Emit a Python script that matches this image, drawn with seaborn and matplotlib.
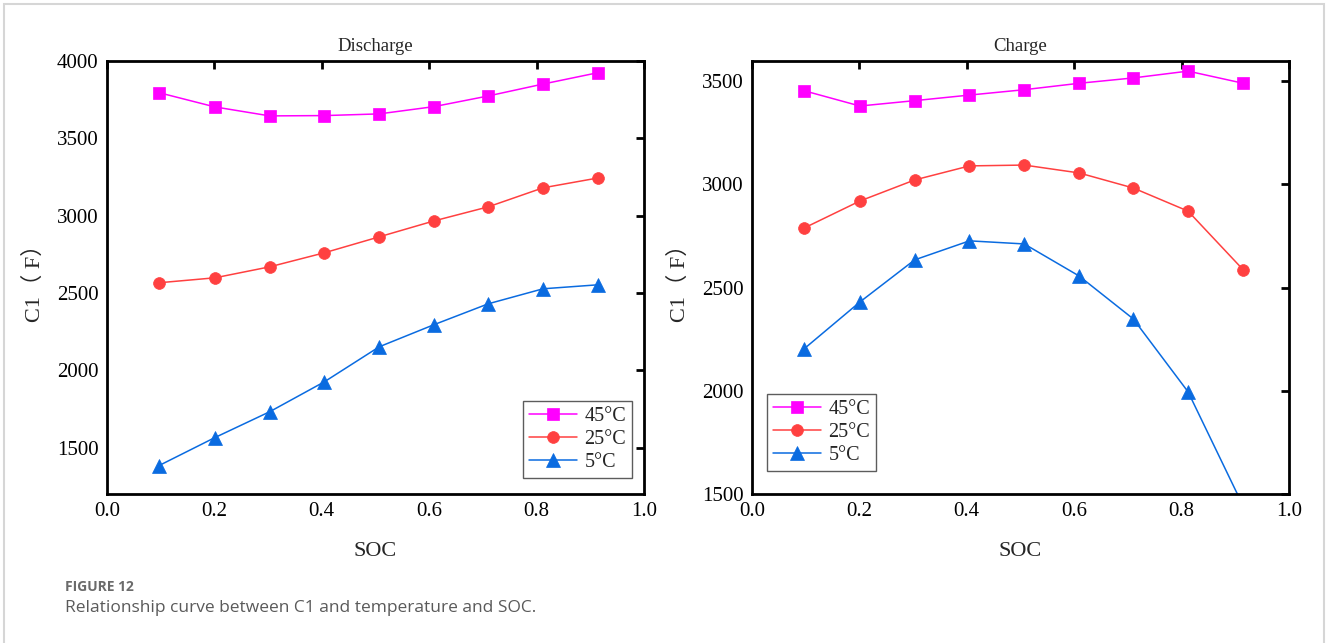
import matplotlib
matplotlib.use("Agg")
import matplotlib.pyplot as plt
import seaborn as sns
import pandas as pd
from matplotlib.patches import Rectangle

soc = [0.097, 0.201, 0.303, 0.405, 0.507, 0.609, 0.71, 0.812, 0.915]
temps = ["45°C", "25°C", "5°C"]

dis_45 = [3795, 3703, 3645, 3647, 3658, 3705, 3774, 3851, 3925]
dis_25 = [2566, 2598, 2669, 2760, 2863, 2966, 3057, 3180, 3244]
dis_5 = [1384, 1565, 1732, 1926, 2152, 2295, 2430, 2527, 2553]

chg_45 = [3453, 3379, 3405, 3432, 3458, 3489, 3515, 3548, 3489]
chg_25 = [2788, 2919, 3021, 3089, 3093, 3055, 2982, 2870, 2585]
chg_5 = [2203, 2430, 2634, 2726, 2711, 2556, 2348, 1995, 1440]

xticks = [0.0, 0.2, 0.4, 0.6, 0.8, 1.0]
dis_yticks = [1500, 2000, 2500, 3000, 3500, 4000]
chg_yticks = [1500, 2000, 2500, 3000, 3500]

colors = ["#ff00ff", "#ff4040", "#0a6be0"]
markers = ["s", "o", "^"]
msizes = [9, 8.5, 9.5]

sns.set_theme(style="white")
serif = ["Liberation Serif", "Noto Sans CJK SC", "DejaVu Sans"]
plt.rcParams["font.family"] = serif

fig = plt.figure(figsize=(13.28, 6.43), dpi=100)
ax1 = fig.add_axes([107/1328, 1-494/643, 537/1328, 433/643])
ax2 = fig.add_axes([752/1328, 1-494/643, 537/1328, 433/643])

def draw(ax, series, title, ylim, yticks, legloc, bbox):
    for vals, lab, c, m, ms in zip(series, temps, colors, markers, msizes):
        sns.lineplot(x=soc, y=vals, ax=ax, color=c, marker=m, markersize=ms,
                     markeredgecolor=c, markeredgewidth=0.5, linewidth=1.1, label=lab)
    ax.set_xlim(0, 1.0)
    ax.set_ylim(*ylim)
    ax.set_xticks(xticks)
    ax.set_xticklabels([f"{t:.1f}" for t in xticks])
    ax.set_yticks(yticks)
    ax.set_yticklabels([str(t) for t in yticks])
    ax.tick_params(direction="in", length=6, width=2, top=True, right=True,
                   labelsize=15, colors="black", pad=6)
    for lbl in ax.get_xticklabels() + ax.get_yticklabels():
        lbl.set_family(serif)
    for s in ax.spines.values():
        s.set_linewidth(2)
        s.set_color("black")
    ax.set_title(title, fontsize=13.5, family=serif, pad=7)
    ax.set_xlabel("SOC", fontsize=16, family=serif, labelpad=15)
    ax.set_ylabel("C1（ F）", fontsize=16, family=serif, labelpad=9)
    leg = ax.legend(loc=legloc, bbox_to_anchor=bbox, frameon=True, fancybox=False,
                    prop={"family": serif, "size": 14.5}, handlelength=2.4,
                    borderpad=0.3, labelspacing=0.2, handletextpad=0.35,
                    borderaxespad=0)
    leg.get_frame().set_edgecolor("#333333")
    leg.get_frame().set_linewidth(1.0)

draw(ax1, [dis_45, dis_25, dis_5], "Discharge", (1200, 4000), dis_yticks,
     "lower right", (0.978, 0.037))
draw(ax2, [chg_45, chg_25, chg_5], "Charge", (1500, 3597), chg_yticks,
     "lower left", (0.028, 0.053))

fig.patches.append(Rectangle((4/1328, -0.01), 1320/1328, 1 - 4/643 + 0.01,
                             transform=fig.transFigure, fill=False,
                             edgecolor="#d6d6d6", linewidth=1.5))

fig.text(65/1328, 1-587/643, "FIGURE 12", fontsize=10, fontweight="bold",
         color="#6b6b6b", family=["Open Sans", "DejaVu Sans"], va="center")
fig.text(65/1328, 1-608/643, "Relationship curve between C1 and temperature and SOC.",
         fontsize=12.5, color="#5a5a5a", family=["Open Sans", "DejaVu Sans"], va="center")

fig.savefig("out.png", dpi=100, facecolor="white")
